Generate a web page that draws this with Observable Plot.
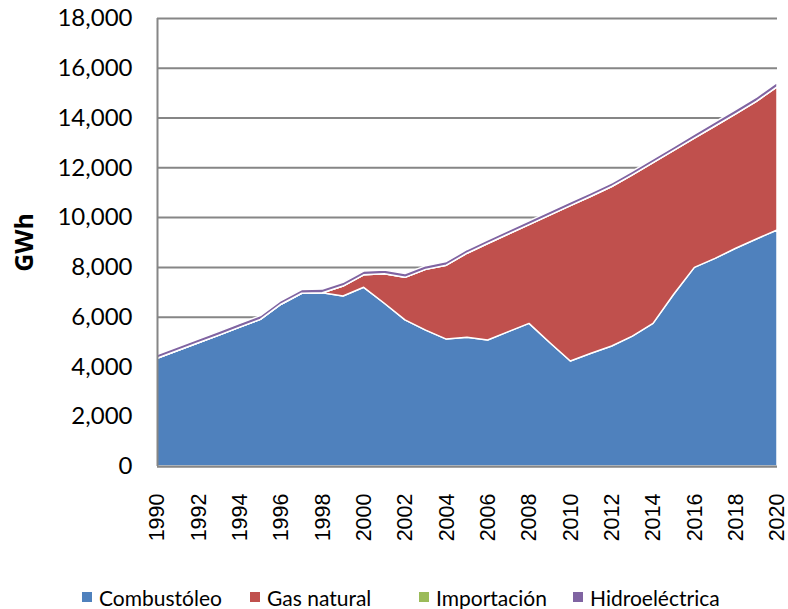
<!DOCTYPE html>
<html>
<head>
<meta charset="utf-8">
<script src="https://cdn.jsdelivr.net/npm/d3@7"></script>
<script src="https://cdn.jsdelivr.net/npm/@observablehq/plot@0.6"></script>
<style>
  html, body { margin: 0; padding: 0; background: #fff; }
  #wrap { position: relative; width: 788px; height: 609px; overflow: hidden; }
  #legend { position: absolute; left: 0; top: 584px; width: 788px; height: 26px; font-family: Lato, "Open Sans", sans-serif; font-size: 21px; color: #000; }
  .item { position: absolute; top: 0; height: 26px; display: flex; align-items: center; white-space: nowrap; }
  .sw { width: 10px; height: 10px; margin-right: 7px; }
  g[aria-label="y-axis label"] text { font-weight: bold; font-size: 25px; font-family: "Open Sans", sans-serif; }
  g[aria-label="x-axis tick label"] text { font-family: "Liberation Sans", Arial, sans-serif; font-size: 21.5px; }
</style>
</head>
<body>
<div id="wrap">
  <div id="chart"></div>
  <div id="legend"></div>
</div>
<script>
const years = d3.range(1990, 2021);
const sources = ["Combustóleo", "Gas natural", "Importación", "Hidroeléctrica"];
const colors = ["#4F81BD", "#C0504D", "#9BBB59", "#8064A2"];
const combustoleo = [4330, 4640, 4950, 5260, 5580, 5890, 6500, 6940, 6960, 6830,
  7180, 6540, 5870, 5460, 5100, 5170, 5060, 5400, 5730, 4960,
  4220, 4530, 4820, 5220, 5730, 6900, 7980, 8340, 8750, 9120, 9480];
const gasNatural = [0, 0, 0, 0, 0, 0, 0, 0, 0, 400,
  500, 1180, 1710, 2440, 2970, 3380, 3880, 3920, 3970, 5120,
  6240, 6310, 6410, 6480, 6460, 5780, 5190, 5320, 5400, 5530, 5750];
const importacion = [0, 0, 0, 0, 0, 0, 0, 0, 0, 0,
  0, 0, 0, 0, 0, 0, 0, 0, 0, 0,
  0, 0, 0, 0, 0, 0, 0, 0, 0, 0, 0];
const hidroelectrica = [150, 150, 150, 150, 150, 150, 150, 150, 150, 150,
  150, 150, 150, 150, 150, 150, 150, 150, 150, 150,
  150, 150, 150, 150, 150, 150, 160, 170, 170, 170, 180];
const yTicks = d3.range(0, 18001, 2000);
const xTicks = d3.range(1990, 2021, 2);

const series = [combustoleo, gasNatural, importacion, hidroelectrica];
const data = [];
sources.forEach((s, i) => years.forEach((y, j) => data.push({year: y, source: s, value: series[i][j]})));

const chart = Plot.plot({
  width: 788,
  height: 560,
  marginLeft: 157,
  marginRight: 11,
  marginTop: 18,
  marginBottom: 94,
  style: {fontFamily: "Lato, sans-serif", fontSize: "24px", color: "#000", background: "#fff", overflow: "visible"},
  x: {domain: [1990, 2020]},
  y: {domain: [0, 18000]},
  color: {domain: sources, range: colors},
  marks: [
    Plot.gridY(yTicks, {stroke: "#868686", strokeOpacity: 1, strokeWidth: 2}),
    Plot.areaY(data, {x: "year", y: "value", fill: "source", order: sources, stroke: "#fff", strokeWidth: 1.5, fillOpacity: 1}),
    Plot.ruleX([1990], {stroke: "#868686", strokeWidth: 2}),
    Plot.ruleY([0], {stroke: "#868686", strokeWidth: 2}),
    Plot.axisY(yTicks, {tickSize: 0, tickPadding: 25, tickFormat: d3.format(","), label: "GWh", labelAnchor: "center", labelArrow: "none", labelOffset: 142}),
    Plot.axisX(xTicks, {tickSize: 0, tickPadding: 27, tickRotate: -90, tickFormat: d => String(d), label: null})
  ]
});
document.getElementById("chart").appendChild(chart);

const legend = document.getElementById("legend");
const lx = [82, 250, 419, 573];
sources.forEach((s, i) => {
  const it = document.createElement("div");
  it.className = "item";
  it.style.left = lx[i] + "px";
  const sw = document.createElement("div");
  sw.className = "sw";
  sw.style.background = colors[i];
  const tx = document.createElement("span");
  tx.textContent = s;
  it.appendChild(sw); it.appendChild(tx);
  legend.appendChild(it);
});
</script>
</body>
</html>
